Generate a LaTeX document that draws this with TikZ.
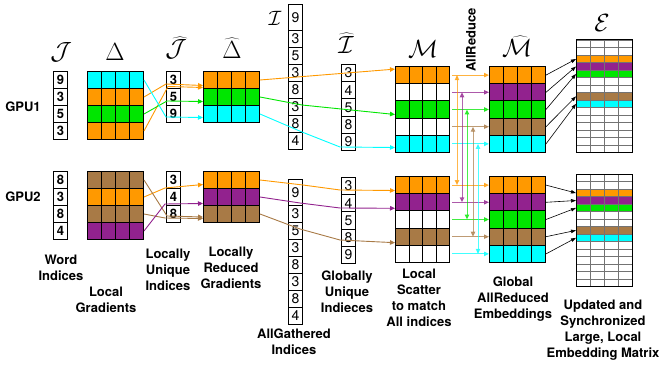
\documentclass[tikz,border=0pt]{standalone}
\usepackage[no-math]{fontspec}
\setmainfont{TeX Gyre Heros}
\usetikzlibrary{arrows.meta,calc}

\definecolor{gorange}{RGB}{255,153,0}
\definecolor{ggreen}{RGB}{0,230,0}
\definecolor{gcyan}{RGB}{0,255,255}
\definecolor{gpurple}{RGB}{146,34,142}
\definecolor{gbrown}{RGB}{168,122,70}

\begin{document}
\begin{tikzpicture}[
    x=1pt, y=-1pt,
    sym/.style={font=\fontsize{24.88}{25}\selectfont},
    lbl/.style={font=\fontsize{13}{16}\selectfont\bfseries, align=center},
    idx/.style={draw, fill=white, line width=0.9pt, minimum width=14pt, minimum height=17pt, inner sep=0pt, anchor=north west, font=\fontsize{13}{13}\selectfont\bfseries},
    gidx/.style={idx, font=\fontsize{14}{14}\selectfont},
    cell/.style={draw, line width=1pt, minimum width=14pt, minimum height=17pt, inner sep=0pt, anchor=north west},
    mcell/.style={cell, minimum width=13.5pt, minimum height=17.2pt},
    ecell/.style={draw=black!55, line width=0.7pt, minimum width=14pt, minimum height=7.47pt, inner sep=0pt, anchor=north west},
    flow/.style={-{Triangle[length=5pt,width=4.5pt]}, line width=0.9pt},
    sync/.style={{Triangle[length=5pt,width=4.5pt]}-{Triangle[length=5pt,width=4.5pt]}, line width=0.9pt, opacity=0.7},
    upd/.style={-{Triangle[length=5pt,width=3.5pt]}, line width=0.6pt}
]
\useasboundingbox (0,0) rectangle (662,369);

% Column titles
\node[sym] (tJ) at (61,52) {$\mathcal{J}$};
\node[sym] (tD) at (115,52) {$\Delta$};
\node[sym] (tJh) at (176,48) {$\widehat{\mathcal{J}}$};
\node[sym] (tDh) at (232,48) {$\widehat{\Delta}$};
\node[sym, font=\fontsize{20.74}{21}\selectfont] (tI) at (275,18) {$\mathcal{I}$};
\node[sym] (tIh) at (346,43) {$\widehat{\mathcal{I}}$};
\node[sym] (tM) at (423,49) {$\mathcal{M}$};
\node[lbl, rotate=90] (allred) at (471,40) {AllReduce};
\node[sym] (tMh) at (517,46) {$\widehat{\mathcal{M}}$};
\node[sym] (tE) at (602,23) {$\mathcal{E}$};

\node[lbl] (gpu1) at (23,107) {GPU1};
\node[lbl] (gpu2) at (23,197) {GPU2};

% GPU1
\foreach \v [count=\r] in {9,3,5,3}
  \node[idx] (j1-\r) at (53,{71+17*(\r-1)}) {\v};
\foreach \c [count=\r] in {gcyan,gorange,ggreen,gorange}
  \foreach \k in {1,...,4}
    \node[cell, fill=\c] (d1-\r-\k) at ({87+14*(\k-1)},{71+17*(\r-1)}) {};
\foreach \v [count=\r] in {3,5,9}
  \node[idx] (jh1-\r) at (166,{71+17*(\r-1)}) {\v};
\foreach \c [count=\r] in {gorange,ggreen,gcyan}
  \foreach \k in {1,...,4}
    \node[cell, fill=\c] (dh1-\r-\k) at ({203+14*(\k-1)},{71+17*(\r-1)}) {};
\node[gidx, minimum height=26pt] (i1-1) at (288,4) {9};
\foreach \v [count=\r from 2] in {3,5,3,8,3,8,4}
  \node[gidx] (i1-\r) at (288,{30+17*(\r-2)}) {\v};
\foreach \v [count=\r] in {3,4,5,8,9}
  \node[gidx, minimum height=17.2pt] (ih1-\r) at (341,{64+17.2*(\r-1)}) {\v};
\foreach \c [count=\r] in {gorange,white,ggreen,white,gcyan}
  \foreach \k in {1,...,4}
    \node[mcell, fill=\c] (m1-\r-\k) at ({395+13.5*(\k-1)},{66+17.2*(\r-1)}) {};
\foreach \c [count=\r] in {gorange,gpurple,ggreen,gbrown,gcyan}
  \foreach \k in {1,...,4}
    \node[mcell, fill=\c, minimum width=14pt] (mh1-\r-\k) at ({489+14*(\k-1)},{66+17.2*(\r-1)}) {};
\foreach \c [count=\r] in {white,white,gorange,gpurple,ggreen,white,white,gbrown,gcyan,white,white,white,white,white,white}
  \foreach \k in {1,...,4}
    \node[ecell, fill=\c] (e1-\r-\k) at ({576+14*(\k-1)},{40+7.47*(\r-1)}) {};
\draw[line width=1pt] (e1-1-1.north west) rectangle (e1-15-4.south east);

% GPU2
\foreach \v [count=\r] in {8,3,8,4}
  \node[idx] (j2-\r) at (53,{171+17*(\r-1)}) {\v};
\foreach \c [count=\r] in {gbrown,gorange,gbrown,gpurple}
  \foreach \k in {1,...,4}
    \node[cell, fill=\c] (d2-\r-\k) at ({87+14*(\k-1)},{171+17*(\r-1)}) {};
\foreach \v [count=\r] in {3,4,8}
  \node[idx] (jh2-\r) at (166,{171+17*(\r-1)}) {\v};
\foreach \c [count=\r] in {gorange,gpurple,gbrown}
  \foreach \k in {1,...,4}
    \node[cell, fill=\c] (dh2-\r-\k) at ({203+14*(\k-1)},{171+17*(\r-1)}) {};
\node[gidx, minimum height=26pt] (i2-1) at (288,179) {9};
\foreach \v [count=\r from 2] in {3,5,3,8,3,8,4}
  \node[gidx] (i2-\r) at (288,{205+17*(\r-2)}) {\v};
\foreach \v [count=\r] in {3,4,5,8,9}
  \node[gidx, minimum height=17.2pt] (ih2-\r) at (341,{177+17.2*(\r-1)}) {\v};
\foreach \c [count=\r] in {gorange,gpurple,white,gbrown,white}
  \foreach \k in {1,...,4}
    \node[mcell, fill=\c] (m2-\r-\k) at ({395+13.5*(\k-1)},{176+17.2*(\r-1)}) {};
\foreach \c [count=\r] in {gorange,gpurple,ggreen,gbrown,gcyan}
  \foreach \k in {1,...,4}
    \node[mcell, fill=\c, minimum width=14pt] (mh2-\r-\k) at ({489+14*(\k-1)},{176+17.2*(\r-1)}) {};
\foreach \c [count=\r] in {white,white,gorange,gpurple,ggreen,white,white,gbrown,gcyan,white,white,white,white,white,white}
  \foreach \k in {1,...,4}
    \node[ecell, fill=\c] (e2-\r-\k) at ({576+14*(\k-1)},{174+7.47*(\r-1)}) {};
\draw[line width=1pt] (e2-1-1.north west) rectangle (e2-15-4.south east);

% Local reduce
\draw[flow, gorange] (d1-2-4.east) -- (166,84) -- ($(dh1-1-1.west)+(0,5.5)$);
\draw[flow, gorange] (d1-4-4.east) -- (168,86.5) -- ($(dh1-1-1.west)+(0,7.5)$);
\draw[flow, ggreen] (d1-3-4.east) -- (167,101) -- ($(dh1-2-1.west)+(0,4.5)$);
\draw[flow, gcyan] (d1-1-4.east) -- (166,117) -- ($(dh1-3-1.west)+(0,3.5)$);
\draw[flow, gorange] (d2-2-4.east) -- (165,188) -- ($(dh2-1-1.west)+(0,4.5)$);
\draw[flow, gbrown] (d2-1-4.east) -- (167,216) -- ($(dh2-3-1.west)+(0,3)$);
\draw[flow, gbrown] (d2-3-4.east) -- (165,218) -- ($(dh2-3-1.west)+(0,4.5)$);
\draw[flow, gpurple] (d2-4-4.east) -- (165,204) -- ($(dh2-2-1.west)+(0,6.5)$);

% Scatter to all indices
\draw[flow, gorange] (dh1-1-4.east) -- ($(m1-1-1.west)+(0,-6)$);
\draw[flow, ggreen] (dh1-2-4.east) -- (302,105) -- ($(m1-3-1.west)+(0,5)$);
\draw[flow, gcyan] (dh1-3-4.east) -- (302,132) -- (340,147) -- ($(m1-5-1.west)+(0,3.6)$);
\draw[flow, gorange] (dh2-1-4.east) -- (303,185) -- (340,190) -- ($(m2-1-1.west)+(0,5.4)$);
\draw[flow, gpurple] (dh2-2-4.east) -- (300,203) -- (340,208) -- ($(m2-2-1.west)+(0,6)$);
\draw[flow, gbrown] (dh2-3-4.east) -- (300,229) -- (340,240) -- ($(m2-4-1.west)+(0,6)$);

% AllReduce
\foreach \c [count=\r] in {gorange,gpurple,ggreen,gbrown,gcyan} {
  \draw[flow, \c, opacity=0.75, shorten <=2pt] (m1-\r-4.east) -- (mh1-\r-1.west);
  \draw[flow, \c, opacity=0.75, shorten <=2pt] (m2-\r-4.east) -- (mh2-\r-1.west);
}
\foreach \c/\dx [count=\r] in {gorange/7,gpurple/12,ggreen/17,gbrown/23,gcyan/28}
  \draw[sync, \c] ($(m1-\r-4.east)+(\dx,0)$) -- ($(m2-\r-4.east)+(\dx,0)$);

% Update embedding matrix
\foreach \r/\k in {1/3,2/4,3/5,4/8,5/9} {
  \draw[upd] (mh1-\r-4.east) -- (e1-\k-1.west);
  \draw[upd] (mh2-\r-4.east) -- (e2-\k-1.west);
}

% Labels
\node[lbl] (wordlbl) at (61,268) {Word\\Indices};
\node[lbl] (gradlbl) at (106,300) {Local\\Gradients};
\node[lbl] (uniqlbl) at (168,270) {Locally\\Unique\\Indices};
\node[lbl] (redlbl) at (231,268) {Locally\\Reduced\\Gradients};
\node[lbl] (gathlbl) at (294,342) {AllGathered\\Indices};
\node[lbl] (guniqlbl) at (347,292) {Globally\\Unique\\Indieces};
\node[lbl] (scatlbl) at (419,298) {Local\\Scatter\\to match\\All indices};
\node[lbl] (globlbl) at (513,299) {Global\\AllReduced\\Embeddings};
\node[lbl] (updlbl) at (603,330) {Updated and\\Synchronized\\Large, Local\\Embedding Matrix};

\end{tikzpicture}
\end{document}
